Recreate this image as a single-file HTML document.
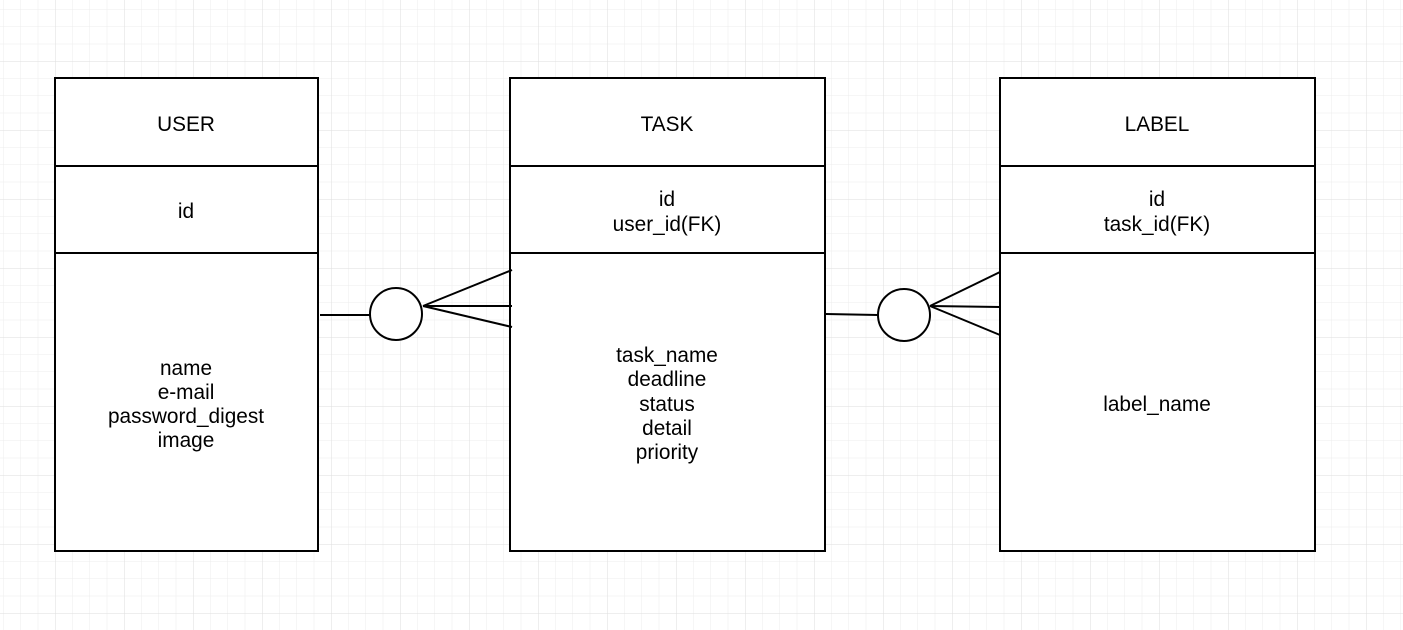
<!DOCTYPE html>
<html><head><meta charset="utf-8"><style>
body{margin:0;background:#fff}
svg{display:block}
text{font-family:"Liberation Sans",Arial,sans-serif;font-size:20.8px;fill:#000;text-anchor:middle}
</style></head><body>
<svg width="1403" height="630" xmlns="http://www.w3.org/2000/svg">
<defs>
<pattern id="g" x="3.25" y="9.25" width="17.25" height="17.25" patternUnits="userSpaceOnUse">
<path d="M0 0H17.25M0 0V17.25" stroke="#ececec" stroke-width="1" fill="none"/>
</pattern>
<pattern id="G" x="55" y="61" width="69" height="69" patternUnits="userSpaceOnUse">
<path d="M0 0H69M0 0V69" stroke="#dedede" stroke-width="1" fill="none"/>
</pattern>
</defs>
<rect width="1403" height="630" fill="url(#g)"/>
<rect width="1403" height="630" fill="url(#G)"/>
<g stroke="#000" stroke-width="2" fill="#fff">
<rect x="55" y="78" width="263" height="473"/>
<line x1="55" y1="166" x2="318" y2="166"/><line x1="55" y1="253" x2="318" y2="253"/>
<rect x="510" y="78" width="315" height="473"/>
<line x1="510" y1="166" x2="825" y2="166"/><line x1="510" y1="253" x2="825" y2="253"/>
<rect x="1000" y="78" width="315" height="473"/>
<line x1="1000" y1="166" x2="1315" y2="166"/><line x1="1000" y1="253" x2="1315" y2="253"/>
<line x1="320" y1="315" x2="370" y2="315"/>
<circle cx="396" cy="314" r="26"/>
<line x1="423" y1="306" x2="512" y2="270"/><line x1="423" y1="306" x2="512" y2="306"/><line x1="423" y1="306" x2="512" y2="327"/>
<line x1="826" y1="314" x2="878" y2="315"/>
<circle cx="904" cy="315" r="26"/>
<line x1="930" y1="306" x2="1000" y2="272"/><line x1="930" y1="306" x2="1000" y2="307"/><line x1="930" y1="306" x2="1000" y2="335"/>
</g>
<text x="186" y="131">USER</text>
<text x="186" y="218">id</text>
<text x="186" y="375">name</text>
<text x="186" y="399">e-mail</text>
<text x="186" y="423">password_digest</text>
<text x="186" y="447">image</text>
<text x="667" y="131">TASK</text>
<text x="667" y="206">id</text>
<text x="667" y="231">user_id(FK)</text>
<text x="667" y="362">task_name</text>
<text x="667" y="386">deadline</text>
<text x="667" y="411">status</text>
<text x="667" y="435">detail</text>
<text x="667" y="459">priority</text>
<text x="1157" y="131">LABEL</text>
<text x="1157" y="206">id</text>
<text x="1157" y="231">task_id(FK)</text>
<text x="1157" y="411">label_name</text>
</svg>
</body></html>
